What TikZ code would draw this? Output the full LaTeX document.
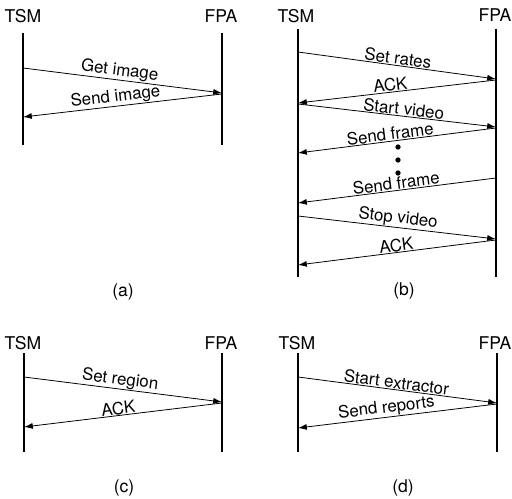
\documentclass[tikz,border=0pt]{standalone}
\usepackage{fontspec}
\setmainfont{TeX Gyre Heros}
\usetikzlibrary{arrows.meta}
\tikzset{
  actor/.style={font=\fontsize{10}{12}\selectfont,inner sep=1pt},
  life/.style={line width=0.7pt},
  msg/.style={-{Latex[length=5pt,width=3.4pt]},line width=0.45pt},
  mlab/.style={font=\fontsize{9.6}{11}\selectfont,sloped,above,inner sep=0.3pt},
  capt/.style={font=\fontsize{10}{12}\selectfont,inner sep=1pt},
  dotn/.style={circle,fill,inner sep=0pt,minimum size=3pt}
}

\begin{document}
\begin{tikzpicture}[x=0.02cm,y=-0.02cm]
\useasboundingbox (0,0) rectangle (512,499);
% ---------------- (a) ----------------
\node[actor] (tsma) at (23,16) {TSM};
\node[actor] (fpaa) at (221,16) {FPA};
\coordinate (tsma1) at (23,33);\coordinate (tsma2) at (23,145);
\coordinate (fpaa1) at (222,33);\coordinate (fpaa2) at (222,145);
\draw[life] (tsma1) -- (tsma2);
\draw[life] (fpaa1) -- (fpaa2);
\coordinate (a1) at (23,68);\coordinate (a2) at (222,93);
\coordinate (a3) at (222,94);\coordinate (a4) at (23,117);
\draw[msg] (a1) -- (a2) node[mlab,pos=0.48] {Get image};
\draw[msg] (a3) -- (a4) node[mlab,pos=0.53] {Send image};
\node[capt] (capa) at (123,292) {(a)};
% ---------------- (b) ----------------
\node[actor] (tsmb) at (296,16) {TSM};
\node[actor] (fpab) at (495,15) {FPA};
\coordinate (tsmb1) at (298,29);\coordinate (tsmb2) at (298,277);
\coordinate (fpab1) at (496,29);\coordinate (fpab2) at (496,277);
\draw[life] (tsmb1) -- (tsmb2);
\draw[life] (fpab1) -- (fpab2);
\coordinate (b1) at (298,52);\coordinate (b2) at (496,79);
\coordinate (b3) at (496,80);\coordinate (b4) at (298,103);
\coordinate (b5) at (298,104);\coordinate (b6) at (496,127);
\coordinate (b7) at (496,128);\coordinate (b8) at (298,153);
\coordinate (b9) at (496,178);\coordinate (b10) at (298,203);
\coordinate (b11) at (298,216);\coordinate (b12) at (496,239);
\coordinate (b13) at (496,240);\coordinate (b14) at (298,265);
\draw[msg] (b1) -- (b2) node[mlab,midway] {Set rates};
\draw[msg] (b3) -- (b4) node[mlab,pos=0.53] {ACK};
\draw[msg] (b5) -- (b6) node[mlab,pos=0.53] {Start video};
\draw[msg] (b7) -- (b8) node[mlab,pos=0.53] {Send frame};
\node[dotn] (dot1) at (398,147) {};
\node[dotn] (dot2) at (398,160) {};
\node[dotn] (dot3) at (398,173) {};
\draw[msg] (b9) -- (b10) node[mlab,midway] {Send frame};
\draw[msg] (b11) -- (b12) node[mlab,midway] {Stop video};
\draw[msg] (b13) -- (b14) node[mlab,midway] {ACK};
\node[capt] (capb) at (404,291) {(b)};
% ---------------- (c) ----------------
\node[actor] (tsmc) at (23,343) {TSM};
\node[actor] (fpac) at (221,343) {FPA};
\coordinate (tsmc1) at (24,353);\coordinate (tsmc2) at (24,452);
\coordinate (fpac1) at (222,353);\coordinate (fpac2) at (222,452);
\draw[life] (tsmc1) -- (tsmc2);
\draw[life] (fpac1) -- (fpac2);
\coordinate (c1) at (24,377);\coordinate (c2) at (222,402);
\coordinate (c3) at (222,403);\coordinate (c4) at (24,427);
\draw[msg] (c1) -- (c2) node[mlab,pos=0.48] {Set region};
\draw[msg] (c3) -- (c4) node[mlab,pos=0.52] {ACK};
\node[capt] (capc) at (124,488) {(c)};
% ---------------- (d) ----------------
\node[actor] (tsmd) at (297,343) {TSM};
\node[actor] (fpad) at (495,343) {FPA};
\coordinate (tsmd1) at (298,353);\coordinate (tsmd2) at (298,452);
\coordinate (fpad1) at (497,353);\coordinate (fpad2) at (497,452);
\draw[life] (tsmd1) -- (tsmd2);
\draw[life] (fpad1) -- (fpad2);
\coordinate (d1) at (298,377);\coordinate (d2) at (497,403);
\coordinate (d3) at (497,404);\coordinate (d4) at (298,428);
\draw[msg] (d1) -- (d2) node[mlab,pos=0.49] {Start extractor};
\draw[msg] (d3) -- (d4) node[mlab,pos=0.55] {Send reports};
\node[capt] (capd) at (403,488) {(d)};
\end{tikzpicture}
\end{document}
